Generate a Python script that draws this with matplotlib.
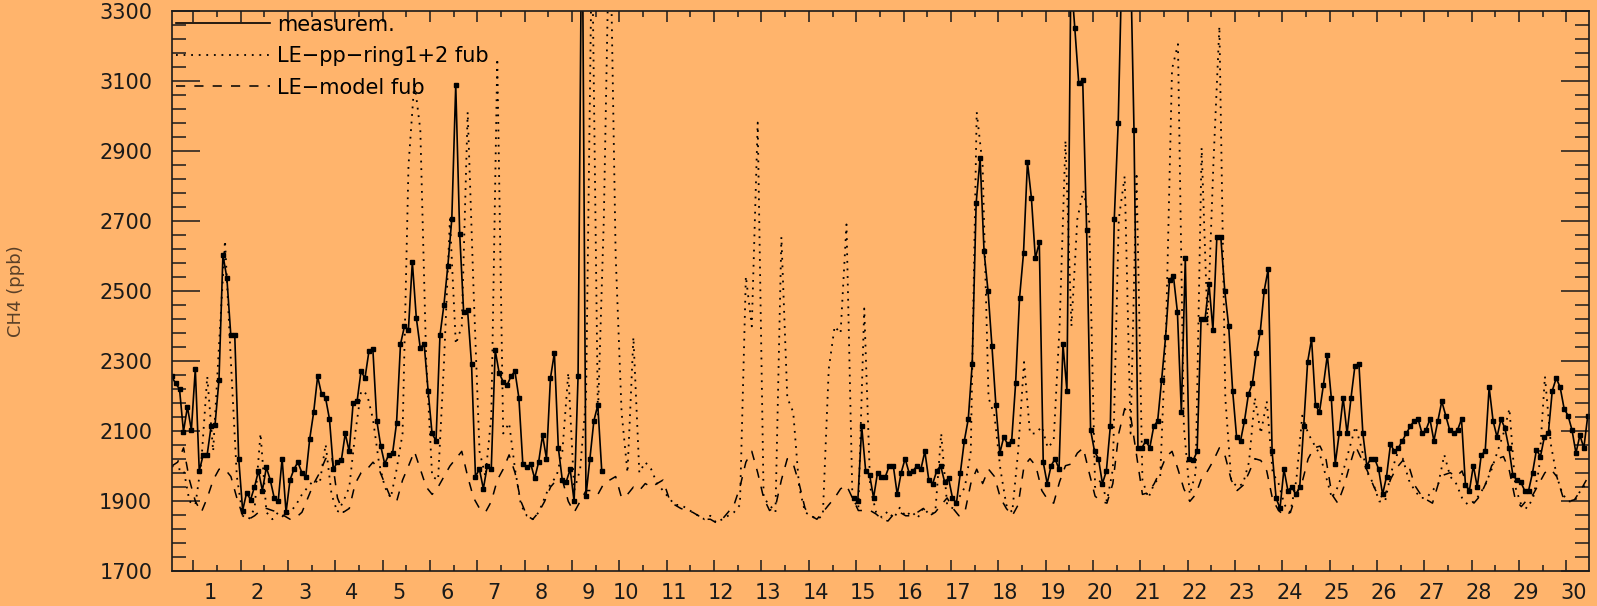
import numpy as np
import matplotlib
matplotlib.use('Agg')
import matplotlib.pyplot as plt
from matplotlib.lines import Line2D
from matplotlib.transforms import ScaledTranslation

# measured CH4, 2-hourly, two segments (gap between day ~9.6 and ~14.9)
meas_a_start = 0.543
meas_a = [2255, 2235, 2219, 2097, 2168, 2102, 2276, 1985, 2031, 2031,
          2112, 2117, 2245, 2602, 2536, 2372, 2372, 2020, 1872, 1923,
          1903, 1939, 1985, 1929, 1995, 1959, 1908, 1898, 2020, 1867,
          1959, 1990, 2010, 1980, 1969, 2077, 2153, 2255, 2204, 2194,
          2133, 1990, 2010, 2015, 2092, 2041, 2179, 2184, 2270, 2250,
          2327, 2332, 2128, 2056, 2005, 2031, 2036, 2122, 2347, 2398,
          2388, 2582, 2423, 2337, 2347, 2214, 2092, 2071, 2372, 2459, 2571,
          2704, 3087, 2663, 2439, 2444, 2291, 1969, 1990, 1934, 2000,
          1990, 2330, 2265, 2240, 2230, 2255, 2270, 2194, 2005, 1995,
          2005, 1964, 2010, 2087, 2020, 2250, 2322, 2051, 1959, 1954,
          1990, 1898, 2255, 3700, 1913, 2020, 2128, 2173, 1985]
meas_b_start = 14.95
meas_b = [1908, 1898, 2112, 1985, 1974, 1908, 1980, 1969, 1969, 2000,
          2000, 1918, 1980, 2020, 1980, 1985, 2000, 1990, 2041, 1959,
          1949, 1985, 2000, 1954, 1964, 1908, 1893, 1980, 2071, 2133,
          2291, 2750, 2878, 2612, 2500, 2342, 2173, 2036, 2082, 2061,
          2071, 2235, 2480,
          2607, 2867, 2765, 2592, 2638, 2010, 1949, 2000, 2020, 1990,
          2347, 2214, 3400, 3250, 3092, 3102, 2673, 2102, 2041, 2020,
          1949, 1985, 2112, 2704, 2980, 3469, 3724, 3520, 2959, 2051,
          2051, 2071, 2051, 2112, 2128, 2245, 2367, 2531, 2541, 2439,
          2153, 2592, 2020, 2015, 2041, 2418, 2418, 2520, 2388, 2653,
          2653, 2500, 2398, 2214, 2082, 2071, 2128, 2204, 2235, 2321,
          2383, 2500, 2561, 2041, 1908, 1878, 1990, 1929, 1939, 1918,
          1939, 2112,
          2296, 2362, 2173, 2153, 2230, 2316, 2194, 2005, 2092, 2194,
          2092, 2194, 2286, 2291, 2092, 2000, 2020, 2020, 1990, 1918,
          1969, 2061, 2041, 2051, 2071, 2092, 2112, 2128, 2133, 2092,
          2102, 2133, 2071, 2128, 2184, 2143, 2102, 2092, 2102, 2133,
          1944, 1929, 2000, 1939, 2031, 2041, 2224, 2128, 2082, 2133,
          2107, 2051, 1974, 1959, 1954, 1929, 1929, 1980, 2046, 2026,
          2082, 2092, 2214, 2250, 2224, 2163, 2143, 2102, 2036, 2087,
          2051, 2143]

# model runs, 3-hourly
model_start = 0.545
pp_ring = [1999, 1990, 1990, 1898, 1888, 2010, 2255, 2041, 2347, 2643,
           2296, 1969, 1857, 1847, 1878, 2092, 1867, 1847, 1867, 1852,
           1867, 1888, 1918, 1939, 1959, 1949, 2061, 1918, 1867, 1898,
           1939, 2092, 2214, 2204, 2133, 2010, 1939, 1908, 1990, 2092,
           2857, 3097, 2959, 2296, 1969, 1959, 2296,
           2704, 2347, 2398, 3010, 2500, 2041, 1969, 2143, 3163, 2092,
           2122, 1990, 1888, 1857, 1847, 1867, 1908, 1949, 1969, 2041,
           2265, 1929, 1990, 2194, 3520, 2143, 2704, 3622, 2602, 2153,
           1980, 2367, 1980, 2010, 1990, 1949, 1929, 1908, 1888, 1888,
           1878, 1867, 1857, 1847, 1857, 1837, 1847, 1857, 1867,
           1888, 2541, 2398, 2980, 1908, 1888, 1867, 2653, 2194, 2153,
           1939, 1867, 1857, 1847, 1857, 2276, 2398, 2378, 2689, 1908,
           1878, 2449, 1939, 1867, 1852, 1870, 1850, 1880, 1855, 1870,
           1850, 1880, 1860, 1867, 2092, 1888, 1878, 1908, 1939, 2041,
           3010, 2857, 2194, 2143, 1990, 1888, 1867, 2041,
           2296, 2092, 2092, 2112, 2051, 2071, 2398, 2929, 2398, 2704,
           2786, 2704, 1939, 1959, 1898, 1990, 2704, 2827, 2092, 2837,
           1959, 1908, 1949, 1969, 2398, 3133, 3204, 2112, 1918, 1980,
           2908, 2398, 2867, 3255, 2194, 1959, 1939, 1949, 2010, 2194,
           2092, 2184, 1980, 1949, 1888, 1867, 1959, 2143,
           2092, 2061, 2031, 1969, 1908, 1939, 1990, 2051, 2112, 2051,
           1980, 1949, 1898, 1898, 1980, 2031, 2020, 1959, 1929, 1908,
           1908, 1929, 1949, 2031, 1969, 1949, 1908, 1888, 1898, 1918,
           1949, 1990, 2041, 2092, 2163, 1939, 1888, 1878, 1908, 1990,
           2255, 2061, 1969, 1918, 1898, 1898, 1929, 1949]
le_model = [1999, 2010, 2051, 1959, 1898, 1867, 1908, 1959, 1990, 1990,
            1969, 1908, 1857, 1847, 1857, 1872, 1878, 1872, 1867, 1857,
            1847, 1852, 1867, 1908, 1949, 1980, 2020, 2031, 1908, 1867,
            1878, 1949, 1980, 1990, 2010, 1990, 1949, 1908, 1898, 1959,
            1999, 2041, 1990, 1939, 1918, 1939, 1969,
            1999, 2020, 2041, 1969, 1908, 1878, 1867, 1898, 1959, 1990,
            2031, 1980, 1898, 1857, 1847, 1867, 1898, 1939, 1959, 1959,
            1898, 1867, 1898, 1929, 1929, 1918, 1949, 1959, 1969, 1908,
            1918, 1939, 1929, 1949, 1939, 1949, 1959, 1908, 1888, 1878,
            1872, 1867, 1857, 1847, 1847, 1837, 1847, 1867, 1888,
            1939, 2010, 2041, 1980, 1908, 1872, 1883, 1959, 2020, 2005,
            1949, 1878, 1857, 1847, 1867, 1888, 1908, 1934, 1944, 1908,
            1872, 1872, 1872, 1862, 1847, 1842, 1862, 1867, 1857, 1857,
            1867, 1878, 1857, 1867, 1888, 1908, 1878, 1857, 1867, 1949,
            1990, 1949, 1990, 1969, 1908, 1878, 1857, 1888,
            1999, 2020, 1999, 1929, 1903, 1893, 1954, 2000, 2005, 2036,
            2051, 1980, 1913, 1898, 1893, 1949, 2092, 2163, 2143, 2031,
            1918, 1923, 1949, 1985, 2026, 2041, 1990, 1934, 1898, 1918,
            1964, 1985, 2015, 2051, 2026, 1959, 1929, 1944, 1980, 2020,
            2015, 1985, 1903, 1872, 1857, 1867, 1918, 1954,
            2020, 2051, 2056, 2020, 1918, 1893, 1939, 2000, 2056, 2020,
            1985, 1944, 1908, 1918, 1964, 1995, 2015, 2000, 1944, 1918,
            1903, 1893, 1949, 1974, 1980, 1969, 1985, 1934, 1893, 1913,
            1949, 2000, 2020, 2026, 1985, 1903, 1883, 1903, 1918, 1949,
            1980, 1990, 1969, 1913, 1898, 1903, 1929, 1959]

days = list(range(1, 31))
labels = ['measurem.', 'LE\u2212pp\u2212ring1+2 fub', 'LE\u2212model fub']

t_a = meas_a_start + np.arange(len(meas_a)) / 12
t_b = meas_b_start + np.arange(len(meas_b)) / 12
t_m = model_start + np.arange(len(pp_ring)) / 8

bg = '#ffb46c'
fig = plt.figure(figsize=(15.97, 6.06), dpi=100, facecolor=bg)
ax = fig.add_axes([0.1075, 0.0582, 0.8875, 0.9244], facecolor=bg)

dots = (0, (1, 3.2))
dash = (0, (6, 6))
ax.plot(t_m, pp_ring, color='k', lw=1.3, linestyle=dots)
ax.plot(t_m, le_model, color='k', lw=1.1, linestyle=dash)
for tt, vv in [(t_a, meas_a), (t_b, meas_b)]:
    ax.plot(tt, vv, color='k', lw=1.2, marker='s', ms=2.4)

ax.set_xlim(0.544, 30.476)
ax.set_ylim(1700, 3300)

ax.set_xticks(days)
ax.set_xticklabels([str(d) for d in days], fontsize=15)
ax.set_xticks(np.array(days[:-1]) + 0.5, minor=True)
ax.set_yticks(range(1700, 3301, 200))
ax.set_yticks(range(1700, 3301, 40), minor=True)
ax.tick_params(axis='both', which='both', direction='in', top=True, right=True,
               colors='#1a1a1a', width=1.1)
ax.tick_params(axis='x', which='major', length=8, pad=9)
ax.tick_params(axis='x', which='minor', length=4.3)
ax.tick_params(axis='y', which='major', length=20, pad=14, labelsize=15)
ax.tick_params(axis='y', which='minor', length=10)

# IDL-style label placement: right of the major tick
for d, lab in zip(days, ax.get_xticklabels()):
    dx = 12 if d < 10 else 5
    lab.set_transform(lab.get_transform() + ScaledTranslation(dx / 72, 0, fig.dpi_scale_trans))

for s in ax.spines.values():
    s.set_color('#1a1a1a')
    s.set_linewidth(1.2)

ax.set_ylabel('CH4 (ppb)', fontsize=13, color='#5a4028')
ax.yaxis.set_label_coords(-0.1035, 0.5)

handles = [Line2D([], [], color='k', lw=1.2),
           Line2D([], [], color='k', lw=1.3, linestyle=dots),
           Line2D([], [], color='k', lw=1.1, linestyle=dash)]
ax.legend(handles, labels, loc='upper left', bbox_to_anchor=(0, 1), frameon=False,
          fontsize=15, handlelength=4.5, handletextpad=0.35, borderaxespad=0,
          borderpad=0.2, labelspacing=0.55)

plt.savefig('out.png', dpi=100, facecolor=bg)
